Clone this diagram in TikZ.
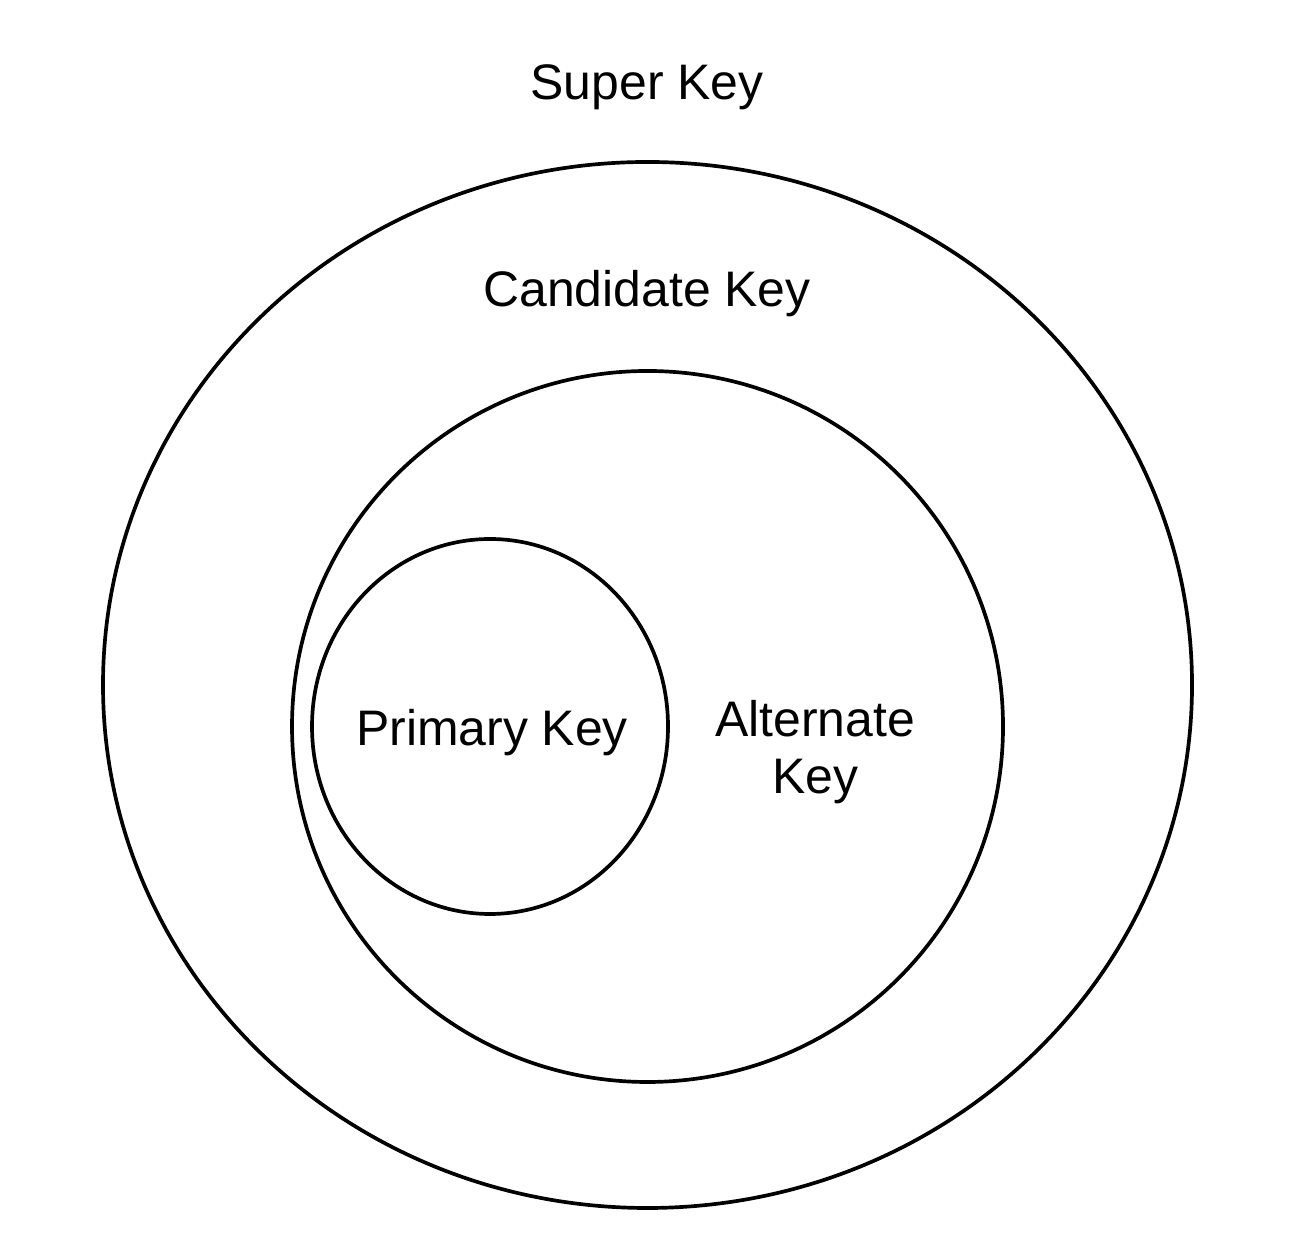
\documentclass[tikz,border=0pt]{standalone}
\usepackage{fontspec}
\setmainfont{Liberation Sans}
\begin{document}
\begin{tikzpicture}[line width=1.05pt, every node/.style={font=\fontsize{14.2}{16.4}\selectfont}]
            \useasboundingbox (0,0) rectangle (13.06,12.54);
            \draw (6.475,5.69) ellipse (5.445 and 5.23);
            \draw (6.475,5.275) circle (3.555);
            \draw (4.90,5.275) ellipse (1.78 and 1.875);
            \node[anchor=base] (super) at (6.47,11.54) {Super Key};
            \node[anchor=base] (cand) at (6.47,9.47) {Candidate Key};
            \node[anchor=base] (prim) at (4.92,5.08) {Primary Key};
            \node[align=center] (alt) at (8.15,5.02) {Alternate\\Key};
        \end{tikzpicture}
\end{document}
